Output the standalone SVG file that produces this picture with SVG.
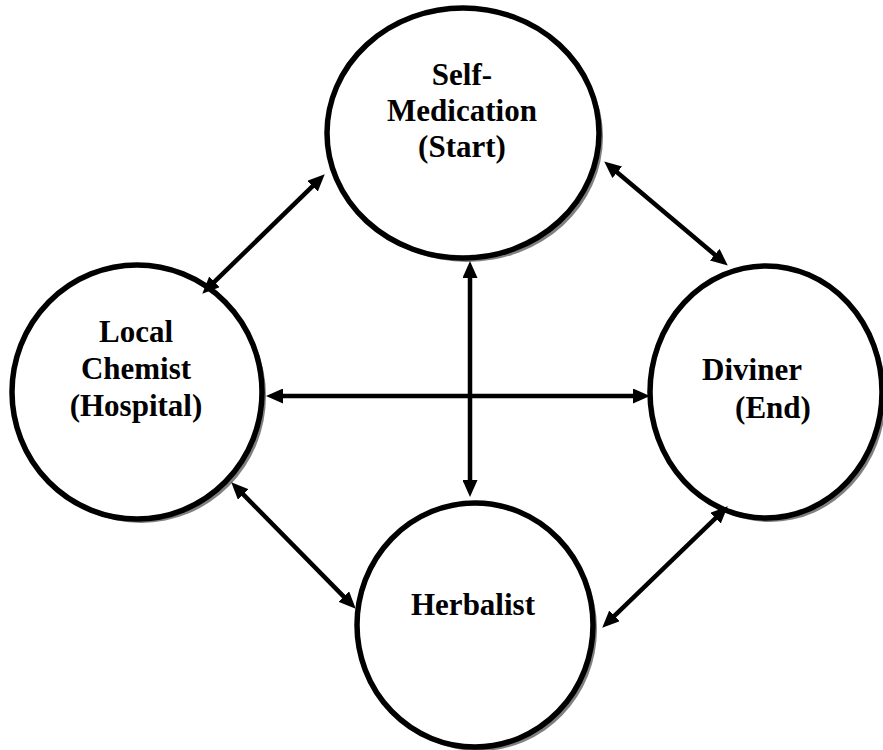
<svg xmlns="http://www.w3.org/2000/svg" width="883" height="750" viewBox="0 0 883 750">
<style>
.shadow{fill:#808080;stroke:none}
.node{fill:#ffffff;stroke:#000000;stroke-width:5.5}
.lbl{font-family:"Liberation Serif","Times New Roman",serif;font-weight:bold;font-size:31px;fill:#000000;text-anchor:middle}
.conn{stroke:#000000;stroke-width:4.5;fill:none;marker-start:url(#ah);marker-end:url(#ah)}
</style>
<defs>
<marker id="ah" viewBox="0 0 17 15" refX="8" refY="7.5" markerWidth="17" markerHeight="15" markerUnits="userSpaceOnUse" orient="auto-start-reverse">
<path d="M0,0 L17,7.5 L0,15 Z" fill="#000000"/>
</marker>
</defs>
<rect width="883" height="750" fill="#ffffff"/>
<g id="self-medication">
<ellipse class="shadow" cx="467" cy="137" rx="136" ry="125"/>
<ellipse class="node" cx="463" cy="133" rx="136" ry="125"/>
<text class="lbl" x="462" y="85">Self-</text>
<text class="lbl" x="462" y="121">Medication</text>
<text class="lbl" x="462" y="157">(Start)</text>
</g>
<g id="local-chemist">
<ellipse class="shadow" cx="141" cy="396" rx="125" ry="127"/>
<ellipse class="node" cx="137" cy="392" rx="125" ry="127"/>
<text class="lbl" x="136" y="342">Local</text>
<text class="lbl" x="136" y="379">Chemist</text>
<text class="lbl" x="136" y="416">(Hospital)</text>
</g>
<g id="diviner">
<ellipse class="shadow" cx="770" cy="396" rx="116" ry="126"/>
<ellipse class="node" cx="766" cy="392" rx="116" ry="126"/>
<text class="lbl" x="752" y="380">Diviner</text>
<text class="lbl" x="773" y="418">(End)</text>
</g>
<g id="herbalist">
<ellipse class="shadow" cx="479" cy="629" rx="118" ry="122"/>
<ellipse class="node" cx="475" cy="625" rx="118" ry="122"/>
<text class="lbl" x="473" y="615">Herbalist</text>
</g>
<g id="connectors">
<line class="conn" x1="318.3" y1="180.6" x2="208.7" y2="287.4"/>
<line class="conn" x1="611.1" y1="167.2" x2="720.9" y2="259.8"/>
<line class="conn" x1="275" y1="396" x2="641" y2="396"/>
<line class="conn" x1="470" y1="270" x2="470" y2="488"/>
<line class="conn" x1="237.6" y1="488.7" x2="349.4" y2="602.3"/>
<line class="conn" x1="721.3" y1="512.6" x2="608.7" y2="621.4"/>
</g>
</svg>
